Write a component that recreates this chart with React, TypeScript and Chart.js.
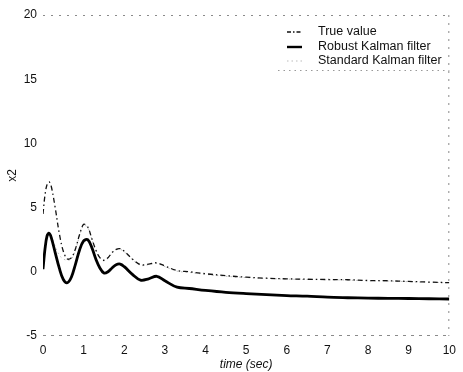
import React, { useEffect, useRef } from "react";
import { Chart, registerables } from "chart.js";

Chart.register(...registerables);

const times = [0, 0.05, 0.1, 0.15, 0.2, 0.3, 0.4, 0.5, 0.6, 0.7, 0.8, 0.9, 1.0, 1.1, 1.2, 1.3, 1.4, 1.5, 1.6, 1.7, 1.8, 1.9, 2.0, 2.2, 2.4, 2.6, 2.8, 3.0, 3.3, 3.6, 4.0, 4.5, 5, 5.5, 6, 6.5, 7, 7.5, 8, 8.5, 9, 9.5, 10];

const trueValue = [4.5, 6.0, 6.8, 7.0, 6.7, 5.0, 3.0, 1.6, 1.0, 1.1, 1.8, 2.9, 3.7, 3.5, 2.6, 1.7, 1.1, 0.9, 1.1, 1.5, 1.75, 1.8, 1.6, 1.0, 0.55, 0.6, 0.7, 0.45, 0.1, 0.0, -0.15, -0.3, -0.42, -0.5, -0.55, -0.58, -0.6, -0.62, -0.68, -0.7, -0.75, -0.8, -0.85];

const robustKF = [0.2, 1.8, 2.8, 3.0, 2.7, 1.5, 0.3, -0.6, -0.85, -0.4, 0.6, 1.7, 2.4, 2.5, 1.9, 1.0, 0.3, -0.1, 0.0, 0.3, 0.55, 0.6, 0.4, -0.2, -0.65, -0.55, -0.35, -0.7, -1.2, -1.3, -1.45, -1.6, -1.7, -1.78, -1.85, -1.9, -1.98, -2.02, -2.05, -2.07, -2.08, -2.1, -2.12];

const standardKF = [0.2, 1.8, 2.8, 3.0, 2.8, 2.0, 1.3, 1.0, 0.9, 1.0, 1.7, 2.8, 3.6, 3.45, 2.55, 1.65, 1.05, 0.85, 1.05, 1.45, 1.7, 1.75, 1.55, 0.95, 0.5, 0.55, 0.65, 0.4, 0.05, -0.05, -0.2, -0.35, -0.45, -0.52, -0.57, -0.6, -0.62, -0.65, -0.7, -0.72, -0.77, -0.82, -0.85];

const legendLabels = ["True value", "Robust Kalman filter", "Standard Kalman filter"];
const xTicks = [0, 1, 2, 3, 4, 5, 6, 7, 8, 9, 10];
const yTicks = [-5, 0, 5, 10, 15, 20];

const FONT = "'Liberation Sans', Arial, sans-serif";

const toPts = (ys: number[]) => times.map((t, i) => ({ x: t, y: ys[i] }));

const framePlugin = {
  id: "frameLegend",
  afterDraw(chart: any) {
    const { ctx, chartArea } = chart;
    const { left, right, top, bottom } = chartArea;
    ctx.save();
    ctx.strokeStyle = "#8a8a8a";
    ctx.lineWidth = 1;
    ctx.setLineDash([2, 6]);
    ctx.beginPath();
    ctx.moveTo(left, top + 0.5);
    ctx.lineTo(right, top + 0.5);
    ctx.moveTo(right - 0.5, top);
    ctx.lineTo(right - 0.5, bottom);
    ctx.stroke();
    ctx.setLineDash([3, 5]);
    ctx.beginPath();
    ctx.moveTo(left, bottom - 0.5);
    ctx.lineTo(right, bottom - 0.5);
    ctx.stroke();
    ctx.setLineDash([1.5, 4]);
    ctx.strokeStyle = "#999";
    ctx.beginPath();
    ctx.moveTo(278, 70.5);
    ctx.lineTo(right, 70.5);
    ctx.stroke();
    const rows = [32, 47, 61];
    const styles = [
      { color: "#111", width: 1.3, dash: [4, 2, 1.5, 2] },
      { color: "#000", width: 2.4, dash: [] as number[] },
      { color: "#bbb", width: 1, dash: [1.5, 3] },
    ];
    ctx.font = `12.5px ${FONT}`;
    ctx.textBaseline = "middle";
    ctx.textAlign = "left";
    legendLabels.forEach((lab, i) => {
      const s = styles[i];
      ctx.strokeStyle = s.color;
      ctx.lineWidth = s.width;
      ctx.setLineDash(s.dash);
      ctx.beginPath();
      ctx.moveTo(287, rows[i]);
      ctx.lineTo(302, rows[i]);
      ctx.stroke();
      ctx.fillStyle = "#111";
      ctx.fillText(lab, 318, rows[i]);
    });
    ctx.restore();
  },
};

export default function App() {
  const ref = useRef<HTMLCanvasElement>(null);
  useEffect(() => {
    if (!ref.current) return;
    const chart = new Chart(ref.current, {
      type: "line",
      data: {
        datasets: [
          {
            label: legendLabels[1],
            data: toPts(robustKF),
            borderColor: "#000",
            borderWidth: 2.8,
            pointRadius: 0,
            tension: 0.35,
            order: 0,
          },
          {
            label: legendLabels[0],
            data: toPts(trueValue),
            borderColor: "#111",
            borderWidth: 1.3,
            borderDash: [5, 3, 1.5, 3],
            pointRadius: 0,
            tension: 0.35,
            order: 1,
          },
          {
            label: legendLabels[2],
            data: toPts(standardKF),
            borderColor: "#bbb",
            borderWidth: 1,
            borderDash: [1.5, 3],
            pointRadius: 0,
            tension: 0.35,
            order: 2,
          },
        ],
      },
      options: {
        responsive: false,
        animation: false,
        layout: { padding: { top: 15, right: 8, left: 0, bottom: 0 } },
        plugins: { legend: { display: false }, tooltip: { enabled: false } },
        scales: {
          x: {
            type: "linear",
            min: 0,
            max: 10,
            afterBuildTicks: (s: any) => {
              s.ticks = xTicks.map((v) => ({ value: v }));
            },
            afterFit: (s: any) => {
              s.height = 36;
            },
            grid: { display: false, drawTicks: false },
            border: { display: false },
            ticks: {
              color: "#111",
              padding: 7,
              font: { family: FONT, size: 12 },
              maxRotation: 0,
            },
            title: {
              display: true,
              text: "time (sec)",
              color: "#111",
              font: { family: FONT, size: 12, style: "italic" },
              padding: { top: 0, bottom: 0 },
            },
          },
          y: {
            type: "linear",
            min: -5,
            max: 20,
            afterBuildTicks: (s: any) => {
              s.ticks = yTicks.map((v) => ({ value: v }));
            },
            afterFit: (s: any) => {
              s.width = 43;
            },
            grid: { display: false, drawTicks: false },
            border: { display: false },
            ticks: {
              color: "#111",
              padding: 6,
              font: { family: FONT, size: 12 },
            },
            title: {
              display: true,
              text: "x2",
              color: "#111",
              font: { family: FONT, size: 12 },
              padding: { top: 5, bottom: 0 },
            },
          },
        },
      },
      plugins: [framePlugin],
    });
    return () => chart.destroy();
  }, []);
  return (
    <div style={{ position: "absolute", left: 0, top: 0, width: 463, height: 372, background: "#fff" }}>
      <canvas ref={ref} width={463} height={372} style={{ display: "block" }} />
    </div>
  );
}
